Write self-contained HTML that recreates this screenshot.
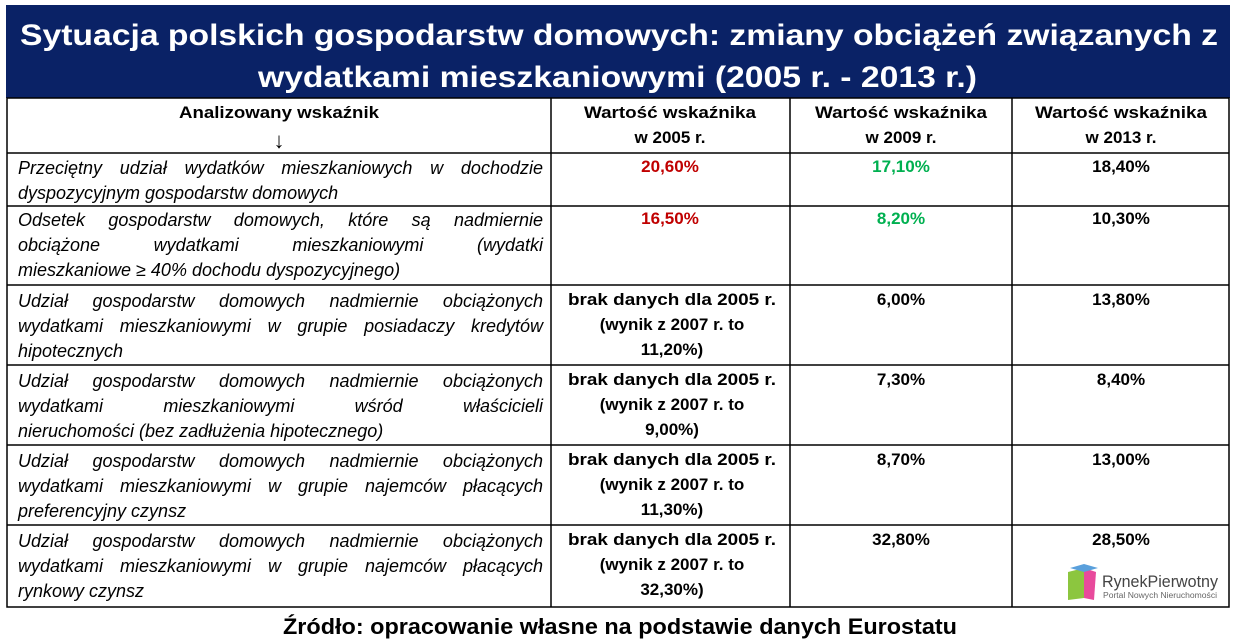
<!DOCTYPE html>
<html><head><meta charset="utf-8"><style>
body{margin:0;background:#fff;width:1237px;height:643px;position:relative;overflow:hidden;font-family:"Liberation Sans",sans-serif}
.l{position:absolute;left:18px;width:525px;font-style:italic;font-size:18px;line-height:20px;color:#000;text-align:justify;text-align-last:justify;white-space:nowrap}
.n{text-align-last:left;text-align:left}
svg{position:absolute;left:0;top:0}
</style></head><body>
<svg width="1237" height="643" xmlns="http://www.w3.org/2000/svg" font-family="Liberation Sans, sans-serif">
<rect x="6" y="5" width="1224" height="93" fill="#0a2266"/>
<text x="20" y="45" fill="#fff" font-weight="bold" font-size="30" textLength="1198" lengthAdjust="spacingAndGlyphs">Sytuacja polskich gospodarstw domowych: zmiany obciążeń związanych z</text>
<text x="258" y="87" fill="#fff" font-weight="bold" font-size="30" textLength="719" lengthAdjust="spacingAndGlyphs">wydatkami mieszkaniowymi (2005 r. - 2013 r.)</text>
<g stroke="#000" stroke-width="1.5" fill="none">
<rect x="7" y="98" width="1222" height="509"/>
<line x1="551" y1="98" x2="551" y2="607"/><line x1="790" y1="98" x2="790" y2="607"/><line x1="1012" y1="98" x2="1012" y2="607"/>
<line x1="7" y1="153" x2="1229" y2="153"/><line x1="7" y1="206" x2="1229" y2="206"/><line x1="7" y1="285" x2="1229" y2="285"/>
<line x1="7" y1="365" x2="1229" y2="365"/><line x1="7" y1="445" x2="1229" y2="445"/><line x1="7" y1="525" x2="1229" y2="525"/>
</g>
<g font-weight="bold" font-size="17" text-anchor="middle" fill="#000">
<text x="279" y="118" textLength="200" lengthAdjust="spacingAndGlyphs">Analizowany wskaźnik</text>
<text x="279" y="148" font-size="22">↓</text>
<text x="670" y="118" textLength="172" lengthAdjust="spacingAndGlyphs">Wartość wskaźnika</text><text x="670" y="143">w 2005 r.</text>
<text x="901" y="118" textLength="172" lengthAdjust="spacingAndGlyphs">Wartość wskaźnika</text><text x="901" y="143">w 2009 r.</text>
<text x="1121" y="118" textLength="172" lengthAdjust="spacingAndGlyphs">Wartość wskaźnika</text><text x="1121" y="143">w 2013 r.</text>
<text x="670" y="172" fill="#c00000">20,60%</text><text x="901" y="172" fill="#00b050">17,10%</text><text x="1121" y="172">18,40%</text>
<text x="670" y="224" fill="#c00000">16,50%</text><text x="901" y="224" fill="#00b050">8,20%</text><text x="1121" y="224">10,30%</text>
<text x="901" y="305">6,00%</text><text x="1121" y="305">13,80%</text>
<text x="901" y="385">7,30%</text><text x="1121" y="385">8,40%</text>
<text x="901" y="465">8,70%</text><text x="1121" y="465">13,00%</text>
<text x="901" y="545">32,80%</text><text x="1121" y="545">28,50%</text>
<text x="672" y="305" textLength="208" lengthAdjust="spacingAndGlyphs">brak danych dla 2005 r.</text><text x="672" y="330">(wynik z 2007 r. to</text><text x="672" y="355">11,20%)</text>
<text x="672" y="385" textLength="208" lengthAdjust="spacingAndGlyphs">brak danych dla 2005 r.</text><text x="672" y="410">(wynik z 2007 r. to</text><text x="672" y="435">9,00%)</text>
<text x="672" y="465" textLength="208" lengthAdjust="spacingAndGlyphs">brak danych dla 2005 r.</text><text x="672" y="490">(wynik z 2007 r. to</text><text x="672" y="515">11,30%)</text>
<text x="672" y="545" textLength="208" lengthAdjust="spacingAndGlyphs">brak danych dla 2005 r.</text><text x="672" y="570">(wynik z 2007 r. to</text><text x="672" y="595">32,30%)</text>
<text x="620" y="634" font-size="22" textLength="674" lengthAdjust="spacingAndGlyphs">Źródło: opracowanie własne na podstawie danych Eurostatu</text>
</g>
<g>
<polygon points="1068,572 1084,568 1084,598 1068,600" fill="#8cc63f"/>
<polygon points="1084,568 1096,572 1094,600 1084,598" fill="#e84a9c"/>
<polygon points="1070,568 1084,564 1098,568 1084,572" fill="#5aa0dc"/>
<text x="1102" y="587" font-size="17" fill="#444" textLength="116" lengthAdjust="spacingAndGlyphs">RynekPierwotny</text>
<text x="1103" y="598" font-size="8" fill="#666" textLength="114" lengthAdjust="spacingAndGlyphs">Portal Nowych Nieruchomości</text>
</g>
</svg>
<div class="l" style="top:158px">Przeciętny udział wydatków mieszkaniowych w dochodzie</div>
<div class="l n" style="top:183px">dyspozycyjnym gospodarstw domowych</div>
<div class="l" style="top:210px">Odsetek gospodarstw domowych, które są nadmiernie</div>
<div class="l" style="top:235px">obciążone wydatkami mieszkaniowymi (wydatki</div>
<div class="l n" style="top:260px">mieszkaniowe ≥ 40% dochodu dyspozycyjnego)</div>
<div class="l" style="top:291px">Udział gospodarstw domowych nadmiernie obciążonych</div>
<div class="l" style="top:316px">wydatkami mieszkaniowymi w grupie posiadaczy kredytów</div>
<div class="l n" style="top:341px">hipotecznych</div>
<div class="l" style="top:371px">Udział gospodarstw domowych nadmiernie obciążonych</div>
<div class="l" style="top:396px">wydatkami mieszkaniowymi wśród właścicieli</div>
<div class="l n" style="top:421px">nieruchomości (bez zadłużenia hipotecznego)</div>
<div class="l" style="top:451px">Udział gospodarstw domowych nadmiernie obciążonych</div>
<div class="l" style="top:476px">wydatkami mieszkaniowymi w grupie najemców płacących</div>
<div class="l n" style="top:501px">preferencyjny czynsz</div>
<div class="l" style="top:531px">Udział gospodarstw domowych nadmiernie obciążonych</div>
<div class="l" style="top:556px">wydatkami mieszkaniowymi w grupie najemców płacących</div>
<div class="l n" style="top:581px">rynkowy czynsz</div>
</body></html>
